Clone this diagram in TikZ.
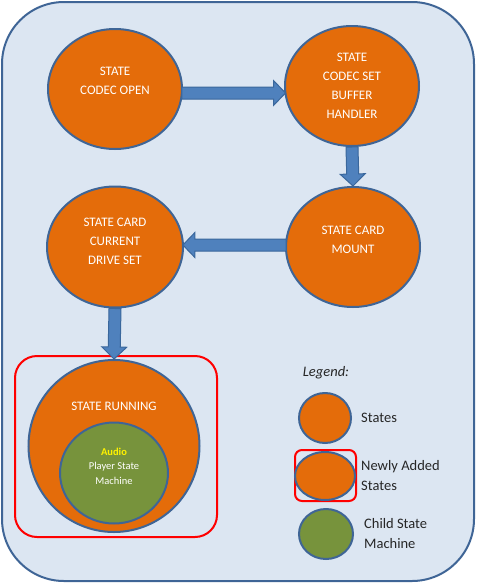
\documentclass[tikz,border=0pt]{standalone}
\usepackage{fontspec}
\setmainfont{Carlito}
\usetikzlibrary{shapes.geometric,calc}
\definecolor{bgfill}{HTML}{DCE6F2}
\definecolor{bordblue}{HTML}{3F6596}
\definecolor{stateor}{HTML}{E46C0A}
\definecolor{childgr}{HTML}{77933C}
\definecolor{arrfill}{HTML}{4F81BD}
\definecolor{arrdraw}{HTML}{3A679C}
\newcommand\blkarrow[2]{%
 \coordinate (tmpc) at ($(#2)!12pt!(#1)$);
 \filldraw[blkarrow] ($(#1)!6pt!90:(#2)$) -- ($(tmpc)!6pt!90:(#2)$) -- ($(tmpc)!12.5pt!90:(#2)$) -- (#2) -- ($(tmpc)!12.5pt!-90:(#2)$) -- ($(tmpc)!6pt!-90:(#2)$) -- ($(#1)!6pt!-90:(#2)$) -- cycle;}
\tikzset{
 stateell/.style={ellipse, draw=bordblue, fill=stateor, line width=2pt, inner sep=0pt},
 childell/.style={ellipse, draw=bordblue, fill=childgr, line width=2pt, inner sep=0pt},
 statetxt/.style={text=white, align=center, font=\fontsize{13}{19}\selectfont, inner sep=0pt},
 childtxt/.style={text=white, align=center, font=\fontsize{10.5}{14.5}\selectfont, inner sep=0pt},
 legtxt/.style={text=black!85, align=left, anchor=west, font=\fontsize{14.5}{20}\selectfont, inner sep=0pt},
 newbox/.style={draw=red, line width=2pt},
 blkarrow/.style={fill=arrfill, draw=arrdraw, line width=1pt, line join=miter},
}
\begin{document}
\begin{tikzpicture}[x=1pt,y=-1pt]
\useasboundingbox (0,0) rectangle (478,584);
\draw[draw=bordblue, fill=bgfill, line width=2pt, rounded corners=62pt] (2,2) rectangle (474,581);

% states
\node[stateell, minimum width=134pt, minimum height=120pt] (e1) at (115,89) {};
\node[statetxt] (e1t) at (115,81) {STATE\\CODEC OPEN};
\node[stateell, minimum width=134pt, minimum height=120pt] (e2) at (352,86) {};
\node[statetxt] (e2t) at (352,86) {STATE\\CODEC SET\\BUFFER\\HANDLER};
\node[stateell, minimum width=134pt, minimum height=120pt] (e3) at (353,247) {};
\node[statetxt] (e3t) at (353,240) {STATE CARD\\MOUNT};
\node[stateell, minimum width=136pt, minimum height=121pt] (e4) at (115,247) {};
\node[statetxt] (e4t) at (115,241) {STATE CARD\\CURRENT\\DRIVE SET};

% running
\draw[newbox, rounded corners=22pt] (15,356) rectangle (217,537);
\node[stateell, minimum width=171pt, minimum height=172pt] (run) at (114,446) {};
\node[statetxt] (runt) at (114,406) {STATE RUNNING};
\node[childell, minimum width=108pt, minimum height=101pt] (child) at (114,473) {};
\node[childtxt] (childt) at (114,466) {\textcolor{yellow}{\bfseries Audio}\\Player State\\Machine};

% arrow end points on the ellipse borders
\coordinate (a1s) at ($(e1.center)+(66.8,4)$);
\coordinate (a1e) at ($(e2.center)+(-66.5,7)$);
\coordinate (a3s) at ($(e3.center)+(-66.9,-2)$);
\coordinate (a3e) at ($(e4.center)+(67.9,-2)$);

% arrows
\blkarrow{a1s}{a1e}
\blkarrow{e2.south}{e3.north}
\blkarrow{a3s}{a3e}
\blkarrow{e4.south}{run.north}

% legend
\node[text=black!85, font=\fontsize{14.5}{20}\selectfont\itshape, inner sep=0pt] (legt) at (326,373) {Legend:};
\node[stateell, minimum width=52pt, minimum height=50pt] (l1) at (325,418) {};
\node[legtxt] (l1t) at (361,418) {States};
\draw[newbox, rounded corners=7pt] (295,450) rectangle (356,501);
\node[stateell, minimum width=60pt, minimum height=48pt] (l2) at (325,476) {};
\node[legtxt] (l2t) at (361,476) {Newly Added\\States};
\node[childell, minimum width=54pt, minimum height=50pt] (l3) at (326,534) {};
\node[legtxt] (l3t) at (364,534) {Child State\\Machine};
\end{tikzpicture}
\end{document}
